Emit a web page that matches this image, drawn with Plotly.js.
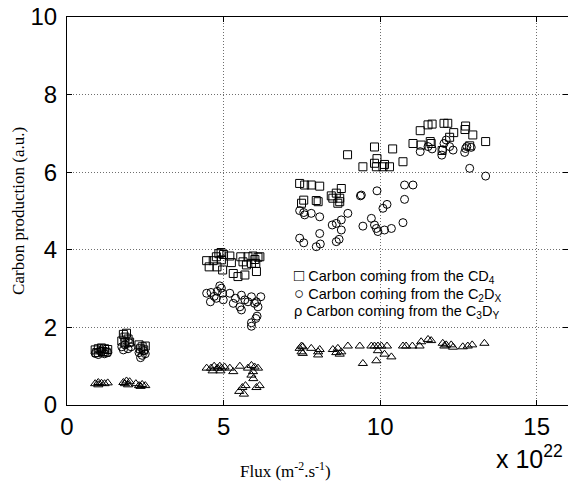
<!DOCTYPE html>
<html><head><meta charset="utf-8">
<script src="https://cdn.plot.ly/plotly-3.0.1.min.js"></script>
<style>html,body{margin:0;padding:0;background:#fff}#c{width:568px;height:482px}</style>
</head><body><div id="c"></div>
<script>
// Carbon coming from CD4 (squares)
const sqX = [0.9,1.0,1.1,1.2,1.3,0.95,1.15,1.25,1.8,1.85,1.9,1.95,1.75,2.0,1.85,2.3,2.4,2.5,2.35,2.45,
  4.92,4.85,5.0,4.46,4.67,4.77,4.93,4.54,4.79,4.97,5.2,5.25,5.31,5.46,5.68,5.55,5.78,5.62,5.73,5.94,6.1,6.16,5.89,6.03,6.05,6.0,
  7.43,7.59,7.8,8.07,7.56,7.49,7.96,8.02,8.76,8.44,8.6,8.71,8.65,8.71,8.49,
  9.45,9.82,9.88,10.09,10.3,10.73,8.96,9.82,10.4,9.9,10.14,11.05,11.28,11.53,11.66,12.04,12.16,12.73,12.71,12.96,13.37,12.35,12.22,11.31,11.6,11.63,11.98,12.86];
const sqY = [1.42,1.45,1.47,1.45,1.43,1.35,1.38,1.36,1.82,1.75,1.85,1.7,1.65,1.62,1.6,1.55,1.5,1.52,1.45,1.42,
  3.93,3.9,3.88,3.72,3.72,3.82,3.74,3.56,3.56,3.48,3.84,3.67,3.39,3.31,3.35,3.82,3.82,3.69,3.61,3.84,3.81,3.82,3.65,3.65,3.44,3.75,
  5.71,5.67,5.67,5.64,5.28,5.2,5.27,5.24,5.58,5.39,5.46,5.33,5.2,5.24,5.33,
  6.14,6.23,6.14,6.14,6.14,6.27,6.45,6.65,6.6,6.35,6.2,6.74,7.07,7.22,7.24,7.26,7.26,7.19,7.1,6.96,6.79,7.02,6.9,6.7,6.79,6.74,6.56,6.68];
// Carbon coming from C2DX (circles)
const ciX = [0.9,1.0,1.1,1.2,1.3,1.05,1.75,1.85,1.95,2.0,1.8,2.05,2.3,2.4,2.5,2.35,2.45,
  4.46,4.6,4.7,4.88,4.93,4.8,4.97,4.77,4.99,4.58,5.2,5.31,5.38,5.57,5.52,5.57,5.68,5.78,5.89,6.19,5.99,6.05,6.1,6.07,6.03,5.89,5.89,
  7.43,7.56,7.59,7.8,8.07,8.07,7.43,7.56,7.96,8.09,8.6,8.69,8.47,8.6,8.76,8.76,8.97,9.37,9.9,9.72,9.45,9.82,9.88,9.93,10.14,10.36,10.09,10.22,10.73,10.78,10.78,11.05,9.4,
  11.28,11.53,11.66,12.04,12.11,11.97,12.0,12.22,12.33,12.73,12.77,12.91,12.7,12.86,13.37];
const ciY = [1.33,1.3,1.38,1.32,1.35,1.4,1.5,1.55,1.45,1.6,1.42,1.5,1.35,1.28,1.32,1.22,1.4,
  2.88,2.9,2.8,3.07,3.01,2.93,2.88,2.75,2.71,2.66,2.88,2.62,2.75,2.83,2.53,2.45,2.71,2.66,2.79,2.79,2.62,2.66,2.53,2.29,2.23,2.12,2.03,
  5.01,4.96,4.9,4.94,4.85,4.42,4.3,4.18,4.08,4.15,4.21,4.27,4.64,4.68,4.77,4.51,4.94,5.39,5.52,4.81,4.61,4.64,4.55,4.47,4.51,4.55,5.07,5.17,4.7,5.3,5.67,5.67,5.41,
  6.53,6.66,6.6,6.74,6.83,6.44,6.58,6.66,6.57,6.61,6.66,6.64,6.51,6.1,5.9];
// Carbon coming from C3DY (triangles)
const trX = [0.9,1.0,1.1,1.2,1.3,1.0,1.8,1.9,2.0,1.85,1.95,2.3,2.4,2.5,2.35,2.2,
  4.46,4.6,4.7,4.8,4.88,4.93,5.03,5.2,5.31,5.52,5.78,5.89,5.99,6.1,5.94,5.89,4.65,4.9,5.5,5.6,5.7,6.05,6.15,5.65,5.95,
  7.49,7.43,7.53,7.8,8.07,8.02,8.02,7.53,7.49,8.49,8.65,8.76,8.97,8.6,8.71,9.35,9.72,9.82,9.93,10.04,10.22,9.93,10.14,10.36,9.45,9.88,
  10.73,10.83,11.03,11.26,11.31,11.53,11.63,12.0,12.11,12.27,12.05,12.33,12.64,12.8,12.94,13.33];
const trY = [0.55,0.58,0.56,0.55,0.57,0.52,0.58,0.62,0.6,0.55,0.52,0.5,0.53,0.5,0.48,0.55,
  0.95,0.95,1.0,0.95,1.0,0.95,0.98,0.95,0.86,1.0,0.95,1.02,0.98,0.95,0.86,0.77,0.88,0.88,0.35,0.45,0.5,0.45,0.5,0.28,0.68,
  1.52,1.46,1.5,1.46,1.43,1.37,1.29,1.33,1.37,1.43,1.46,1.37,1.52,1.35,1.31,1.52,1.52,1.52,1.52,1.52,1.52,1.4,1.31,1.24,1.07,1.14,
  1.52,1.52,1.52,1.52,1.63,1.69,1.66,1.59,1.55,1.55,1.52,1.49,1.5,1.52,1.55,1.59];
const legendLabels = ["<span style='font-size:17px'>□</span> Carbon coming from the CD<sub>4</sub>",
  "<span style='font-size:17px'>○</span> Carbon coming from the C<sub>2</sub>D<sub>X</sub>",
  "ρ Carbon coming from the C<sub>3</sub>D<sub>Y</sub>"];
const xTitle = "Flux (m<sup>-2</sup>.s<sup>-1</sup>)";
const yTitle = "Carbon production (a.u.)";
const expLabel = "x 10<sup>22</sup>";

const mk = (sym, s) => ({symbol: sym, size: s, color: '#000', line: {color: '#000', width: 1}});
const data = [
  {x: sqX, y: sqY, type: 'scatter', mode: 'markers', marker: mk('square-open', 8)},
  {x: ciX, y: ciY, type: 'scatter', mode: 'markers', marker: mk('circle-open', 8)},
  {x: trX, y: trY, type: 'scatter', mode: 'markers', marker: mk('triangle-up-open', 8)}
];
const sans = '"Liberation Sans", Arial, Helvetica, sans-serif';
const serif = '"Liberation Serif", "Times New Roman", serif';
const axisCommon = {
  showline: true, linecolor: '#000', linewidth: 1, mirror: 'ticks',
  ticks: 'inside', ticklen: 5, tickcolor: '#000',
  showgrid: true, gridcolor: '#6e6e6e', griddash: '1px,2px', gridwidth: 1,
  zeroline: false, tickfont: {family: sans, size: 24, color: '#000'}
};
const annotations = legendLabels.map((t, i) => ({
  text: t, xref: 'paper', yref: 'paper', x: 0.449, y: 0.333 - i * 0.0465,
  xanchor: 'left', yanchor: 'middle', showarrow: false,
  font: {family: sans, size: 14.5, color: '#000'}
}));
annotations.push({text: xTitle, xref: 'paper', yref: 'paper', x: 0.437, y: -0.168,
  xanchor: 'center', yanchor: 'middle', showarrow: false, font: {family: serif, size: 17, color: '#000'}});
annotations.push({text: yTitle, xref: 'paper', yref: 'paper', x: -0.098, y: 0.5, textangle: -90,
  xanchor: 'center', yanchor: 'middle', showarrow: false, font: {family: serif, size: 17, color: '#000'}});
annotations.push({text: expLabel, xref: 'paper', yref: 'paper', x: 0.995, y: -0.135,
  xanchor: 'right', yanchor: 'middle', showarrow: false, font: {family: sans, size: 25, color: '#000'}});

const layout = {
  width: 568, height: 482, showlegend: false,
  paper_bgcolor: '#fff', plot_bgcolor: '#fff',
  margin: {l: 67, r: 0, t: 17, b: 77},
  xaxis: Object.assign({}, axisCommon, {range: [0, 16], tickvals: [0, 5, 10, 15], ticktext: ['0','5','10','15']}),
  yaxis: Object.assign({}, axisCommon, {range: [0, 10], tickvals: [0, 2, 4, 6, 8, 10], ticktext: ['0','2','4','6','8','10'], ticklabelstandoff: 4}),
  annotations: annotations
};
Plotly.newPlot('c', data, layout, {staticPlot: true});
</script></body></html>
